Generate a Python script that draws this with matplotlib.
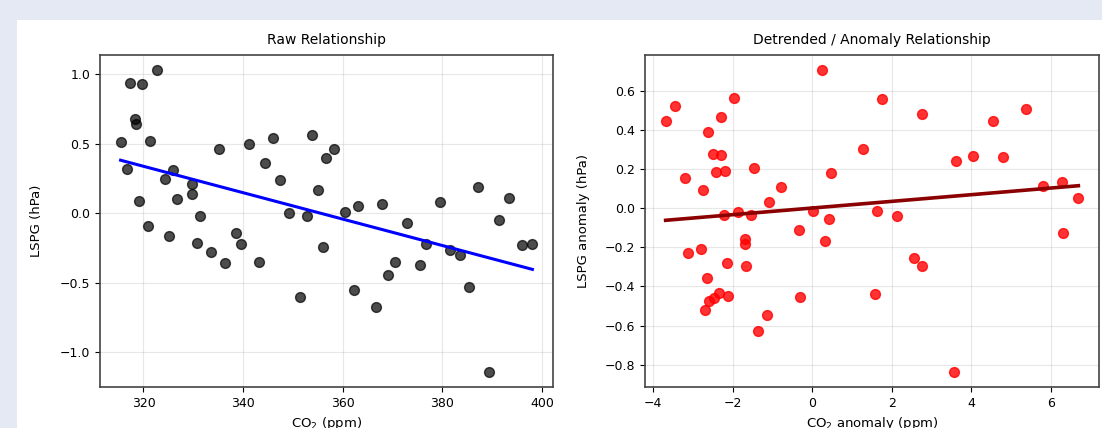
import matplotlib
matplotlib.use("Agg")
import matplotlib.pyplot as plt
import numpy as np

# raw values
co2 = [315.4, 316.6, 317.2, 318.2, 318.5, 319.1, 319.6, 320.9, 321.3, 322.8,
       324.4, 325.2, 326.0, 326.8, 329.7, 329.7, 330.7, 331.4, 333.5, 335.2,
       336.4, 338.5, 339.6, 341.1, 343.2, 344.4, 346.0, 347.5, 349.2, 351.5,
       352.9, 353.9, 355.1, 356.0, 356.6, 358.3, 360.5, 362.3, 363.1, 366.7,
       367.8, 369.2, 370.6, 373.0, 375.6, 376.8, 379.6, 381.5, 383.5, 385.4,
       387.1, 389.4, 391.4, 393.4, 396.1, 398.1]
lspg = [0.51, 0.32, 0.94, 0.68, 0.64, 0.09, 0.93, -0.09, 0.52, 1.03,
        0.25, -0.16, 0.31, 0.10, 0.21, 0.14, -0.21, -0.02, -0.28, 0.46,
        -0.36, -0.14, -0.22, 0.50, -0.35, 0.36, 0.54, 0.24, 0.00, -0.60,
        -0.02, 0.56, 0.17, -0.24, 0.40, 0.46, 0.01, -0.55, 0.05, -0.67,
        0.07, -0.44, -0.35, -0.07, -0.37, -0.22, 0.08, -0.26, -0.30, -0.53,
        0.19, -1.14, -0.05, 0.11, -0.23, -0.22]

# anomalies
co2_anom = [-3.69, -3.46, -3.20, -3.13, -2.75, -2.79, -2.62, -2.64, -2.71, -2.59,
            -2.48, -2.35, -2.50, -2.29, -2.42, -2.20, -2.31, -2.23, -2.15, -2.11,
            -1.97, -1.86, -1.70, -1.69, -1.67, -1.54, -1.46, -1.36, -1.14, -1.08,
            -0.80, -0.33, -0.31, 0.01, 0.23, 0.32, 0.41, 0.46, 1.27, 1.57,
            1.63, 1.74, 2.12, 2.56, 2.75, 2.77, 3.56, 3.62, 4.03, 4.54,
            4.80, 5.37, 5.80, 6.29, 6.30, 6.69]
lspg_anom = [0.444, 0.522, 0.155, -0.228, 0.094, -0.211, 0.389, -0.355, -0.520, -0.474,
             -0.461, -0.435, 0.279, 0.274, 0.184, 0.190, 0.468, -0.036, -0.281, -0.449,
             0.561, -0.022, -0.158, -0.185, -0.293, -0.036, 0.204, -0.628, -0.546, 0.034,
             0.109, -0.112, -0.452, -0.014, 0.706, -0.167, -0.056, 0.182, 0.305, -0.440,
             -0.014, 0.560, -0.039, -0.257, -0.294, 0.481, -0.837, 0.241, 0.267, 0.444,
             0.264, 0.509, 0.114, 0.136, -0.129, 0.051]

bg = "#e4e9f4"
fig = plt.figure(figsize=(11.02, 4.28), dpi=100, facecolor=bg)
# white card behind the plots
card = plt.Rectangle((17 / 1102, 0), 1 - 17 / 1102, 408 / 428,
                     transform=fig.transFigure, facecolor="white",
                     edgecolor="none", zorder=-10)
fig.patches.append(card)

ax1 = fig.add_axes([100 / 1102, 41 / 428, 453 / 1102, 332 / 428])
ax2 = fig.add_axes([645 / 1102, 41 / 428, 454 / 1102, 332 / 428])


def fit_line(x, y):
    x = np.asarray(x)
    m, b = np.polyfit(x, y, 1)
    xs = np.array([x.min(), x.max()])
    return xs, m * xs + b


ax1.scatter(co2, lspg, s=50, color="black", alpha=0.7, zorder=3)
xs, ys = fit_line(co2, lspg)
ax1.plot(xs, ys, color="blue", lw=2.2, zorder=4)
ax1.set_title("Raw Relationship", fontsize=10, pad=8)
ax1.set_xlabel("CO$_2$ (ppm)", fontsize=9.5)
ax1.set_ylabel("LSPG (hPa)", fontsize=9.5, labelpad=12)

ax2.scatter(co2_anom, lspg_anom, s=50, color="red", alpha=0.8, zorder=3)
xs, ys = fit_line(co2_anom, lspg_anom)
ax2.plot(xs, ys, color="darkred", lw=2.6, zorder=4)
ax2.set_title("Detrended / Anomaly Relationship", fontsize=10, pad=8)
ax2.set_xlabel("CO$_2$ anomaly (ppm)", fontsize=9.5)
ax2.set_ylabel("LSPG anomaly (hPa)", fontsize=9.5, labelpad=11)

for ax in (ax1, ax2):
    ax.set_facecolor("white")
    ax.grid(True, alpha=0.3)
    ax.tick_params(labelsize=9)
    for sp in ax.spines.values():
        sp.set_color("#444444")
        sp.set_linewidth(1.2)

fig.savefig("out.png", dpi=100, facecolor=bg)
